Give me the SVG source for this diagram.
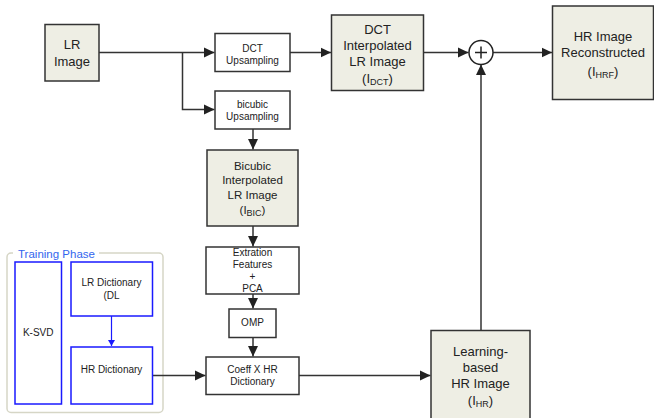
<svg xmlns="http://www.w3.org/2000/svg" width="654" height="418" viewBox="0 0 654 418">
<style>
text{font-family:"Liberation Sans",Arial,sans-serif;fill:#222;text-anchor:middle}
.img{fill:#eeeee4;stroke:#333;stroke-width:1.5}
.proc{fill:#fff;stroke:#333;stroke-width:1.5}
.blue{fill:#fff;stroke:#1a1aff;stroke-width:1.5}
.f13{font-size:13px}
.f12{font-size:11.5px}
.f10{font-size:10px}
.sub{font-size:9px}
.con{fill:none;stroke:#333;stroke-width:1.5}
</style>
<defs>
<marker id="ah" markerUnits="userSpaceOnUse" markerWidth="12" markerHeight="12" refX="10.5" refY="6" orient="auto"><path d="M0,1 L10.5,6 L0,11 Z" fill="#222"/></marker>
<marker id="ahb" markerUnits="userSpaceOnUse" markerWidth="8" markerHeight="8" refX="6" refY="4" orient="auto"><path d="M0,0.5 L6,4 L0,7.5 Z" fill="#1a1aff"/></marker>
</defs>

<g id="training">
<rect x="7" y="253" width="156" height="159.5" rx="4" fill="none" stroke="#d6d6c6" stroke-width="1.5"/>
<rect x="13" y="246" width="86" height="14" fill="#fff"/>
<text x="18" y="257.5" style="text-anchor:start;font-size:11.5px;fill:#3366ee">Training Phase</text>
</g>

<g id="connectors">
<path class="con" d="M99,52.5 H214.5" marker-end="url(#ah)"/>
<path class="con" d="M182.5,52.5 V109.5 H214.5" marker-end="url(#ah)"/>
<path class="con" d="M290,52.5 H331" marker-end="url(#ah)"/>
<path class="con" d="M423.5,52.5 H468.5" marker-end="url(#ah)"/>
<path class="con" d="M493,52.5 H552" marker-end="url(#ah)"/>
<path class="con" d="M481,330 V64.5" marker-end="url(#ah)"/>
<path class="con" d="M253,129 V149.5" marker-end="url(#ah)"/>
<path class="con" d="M253,226 V246.5" marker-end="url(#ah)"/>
<path class="con" d="M253,294 V308.5" marker-end="url(#ah)"/>
<path class="con" d="M253,337.5 V356.5" marker-end="url(#ah)"/>
<path class="con" d="M152.5,375.5 H205.5" marker-end="url(#ah)"/>
<path class="con" d="M299,375.5 H430.5" marker-end="url(#ah)"/>
<path d="M111.5,316 V346" fill="none" stroke="#1a1aff" stroke-width="1.2" marker-end="url(#ahb)"/>
</g>

<g id="lr-image">
<rect class="img" x="45" y="24.5" width="54" height="56.5"/>
<text class="f13" x="72" y="48.5">LR</text>
<text class="f13" x="72" y="65.5">Image</text>
</g>

<g id="dct-up">
<rect class="proc" x="215" y="33.5" width="75" height="38"/>
<text class="f10" x="252.5" y="51.5">DCT</text>
<text class="f10" x="252.5" y="63.5">Upsampling</text>
</g>

<g id="bicubic-up">
<rect class="proc" x="215" y="91" width="75" height="38"/>
<text class="f10" x="252.5" y="107.5">bicubic</text>
<text class="f10" x="252.5" y="119.5">Upsampling</text>
</g>

<g id="dct-interp">
<rect class="img" x="331.5" y="15" width="92" height="75.5"/>
<text class="f13" x="377.5" y="33.5">DCT</text>
<text class="f13" x="377.5" y="49.5">Interpolated</text>
<text class="f13" x="377.5" y="65.5">LR Image</text>
<text class="f13" x="377.5" y="83">(I<tspan class="sub" dy="1.5">DCT</tspan><tspan dy="-1.5">)</tspan></text>
</g>

<g id="sum">
<circle cx="481" cy="52.5" r="12" fill="#fff" stroke="#222" stroke-width="1.5"/>
<path d="M475,52.5 H487 M481,46.5 V58.5" stroke="#222" stroke-width="1.5"/>
</g>

<g id="hr-recon">
<rect class="img" x="552.5" y="6" width="101" height="93.5"/>
<text class="f13" x="603" y="41">HR Image</text>
<text class="f13" x="603" y="57">Reconstructed</text>
<text class="f13" x="603" y="76">(I<tspan class="sub" dy="1.5">HRF</tspan><tspan dy="-1.5">)</tspan></text>
</g>

<g id="bicubic-interp">
<rect class="img" x="207" y="150" width="91" height="76"/>
<text class="f12" x="252.5" y="169.8">Bicubic</text>
<text class="f12" x="252.5" y="184">Interpolated</text>
<text class="f12" x="252.5" y="198.5">LR Image</text>
<text class="f12" x="252.5" y="214">(I<tspan class="sub" dy="1.5">BIC</tspan><tspan dy="-1.5">)</tspan></text>
</g>

<g id="extraction">
<rect class="proc" x="206" y="247" width="93" height="47"/>
<text class="f10" x="252.5" y="256.3">Extration</text>
<text class="f10" x="252.5" y="268">Features</text>
<text class="f10" x="252.5" y="280">+</text>
<text class="f10" x="252.5" y="292.3">PCA</text>
</g>

<g id="omp">
<rect class="proc" x="229" y="309" width="47" height="28.5"/>
<text class="f10" x="252.5" y="325.6">OMP</text>
</g>

<g id="coeff">
<rect class="proc" x="206" y="357" width="93" height="37.5"/>
<text class="f10" x="252.5" y="373">Coeff X HR</text>
<text class="f10" x="252.5" y="385">Dictionary</text>
</g>

<g id="learning">
<rect class="img" x="431" y="330.5" width="99" height="90"/>
<text class="f13" x="480.5" y="356">Learning-</text>
<text class="f13" x="480.5" y="372">based</text>
<text class="f13" x="480.5" y="388">HR Image</text>
<text class="f13" x="480.5" y="405">(I<tspan class="sub" dy="1.5">HR</tspan><tspan dy="-1.5">)</tspan></text>
</g>

<g id="ksvd">
<rect class="blue" x="15" y="262" width="46.5" height="142"/>
<text class="f10" x="38.2" y="336">K-SVD</text>
</g>

<g id="lr-dict">
<rect class="blue" x="71" y="262" width="81.5" height="54"/>
<text class="f10" x="111.5" y="286.3">LR Dictionary</text>
<text class="f10" x="111.5" y="298.6">(DL</text>
</g>

<g id="hr-dict">
<rect class="blue" x="71" y="347" width="81.5" height="57"/>
<text class="f10" x="111.5" y="373">HR Dictionary</text>
</g>
</svg>
